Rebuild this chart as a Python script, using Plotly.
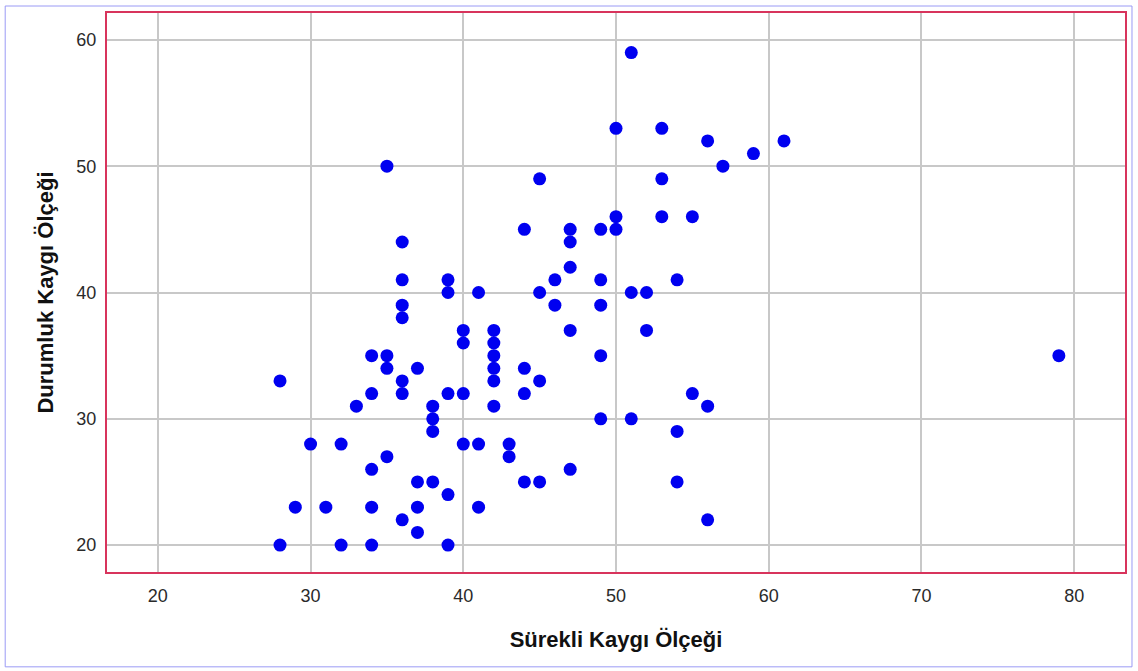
import plotly.graph_objects as go

# Sürekli (trait) vs. Durumluk (state) anxiety scores per participant
surekli = [28, 28, 29, 30, 31, 32, 32, 33,
           34, 34, 34, 34, 34, 35, 35, 35, 35,
           36, 36, 36, 36, 36, 36, 36,
           37, 37, 37, 37, 38, 38, 38, 38,
           39, 39, 39, 39, 39, 40, 40, 40, 40,
           41, 41, 41, 42, 42, 42, 42, 42, 42,
           43, 43, 44, 44, 44, 44, 45, 45, 45, 45,
           46, 46, 47, 47, 47, 47, 47,
           49, 49, 49, 49, 49, 50, 50, 50,
           51, 51, 51, 52, 52, 53, 53, 53,
           54, 54, 54, 55, 55, 56, 56, 56,
           57, 59, 61, 79]
durumluk = [33, 20, 23, 28, 23, 28, 20, 31,
            35, 32, 26, 23, 20, 50, 35, 34, 27,
            44, 41, 39, 38, 33, 32, 22,
            34, 25, 23, 21, 31, 30, 29, 25,
            41, 40, 32, 24, 20, 37, 36, 32, 28,
            40, 28, 23, 37, 36, 35, 34, 33, 31,
            28, 27, 45, 34, 32, 25, 49, 40, 33, 25,
            41, 39, 45, 44, 42, 37, 26,
            45, 41, 39, 35, 30, 53, 46, 45,
            59, 40, 30, 40, 37, 53, 49, 46,
            41, 29, 25, 46, 32, 52, 31, 22,
            50, 51, 52, 35]

x_ticks = [20, 30, 40, 50, 60, 70, 80]
y_ticks = [20, 30, 40, 50, 60]

W, H = 1138, 671
ML, MR, MT, MB = 107, 11, 12, 99
PW, PH = W - ML - MR, H - MT - MB

fig = go.Figure(go.Scatter(
    x=surekli, y=durumluk, mode="markers",
    marker=dict(color="#0000f0", size=13, line=dict(width=0)),
    hoverinfo="x+y",
))

font = "Arial, Liberation Sans, sans-serif"

axis_common = dict(
    showgrid=True, gridcolor="#c8c8c8", gridwidth=1.5,
    zeroline=False, ticks="",
    showline=True, mirror=True, linecolor="#d8345c", linewidth=2,
    tickfont=dict(family=font, size=18, color="#2a2a2a"),
)

fig.update_xaxes(
    range=[16.67, 83.33], tickvals=x_ticks, ticklabelstandoff=6,
    title=dict(text="<b>Sürekli Kaygı Ölçeği</b>", standoff=27,
               font=dict(family=font, size=22, color="#111111")),
    **axis_common,
)
fig.update_yaxes(
    range=[17.87, 62.13], tickvals=y_ticks, ticklabelstandoff=5,
    title=dict(text="<b>Durumluk Kaygı Ölçeği</b>", standoff=17,
               font=dict(family=font, size=22, color="#111111")),
    **axis_common,
)

# Thin outer frame around the whole chart
def px_x(px):
    return (px - ML) / PW

def px_y(py):
    return (H - MB - py) / PH

fig.add_shape(type="rect", xref="paper", yref="paper",
              x0=px_x(5), x1=px_x(1134), y0=px_y(667), y1=px_y(5),
              line=dict(color="#9a9af5", width=1), fillcolor="rgba(0,0,0,0)",
              layer="below")

fig.update_layout(
    width=W, height=H,
    margin=dict(l=ML, r=MR, t=MT, b=MB),
    paper_bgcolor="white", plot_bgcolor="white",
    showlegend=False,
)

fig.write_html("out.html")
